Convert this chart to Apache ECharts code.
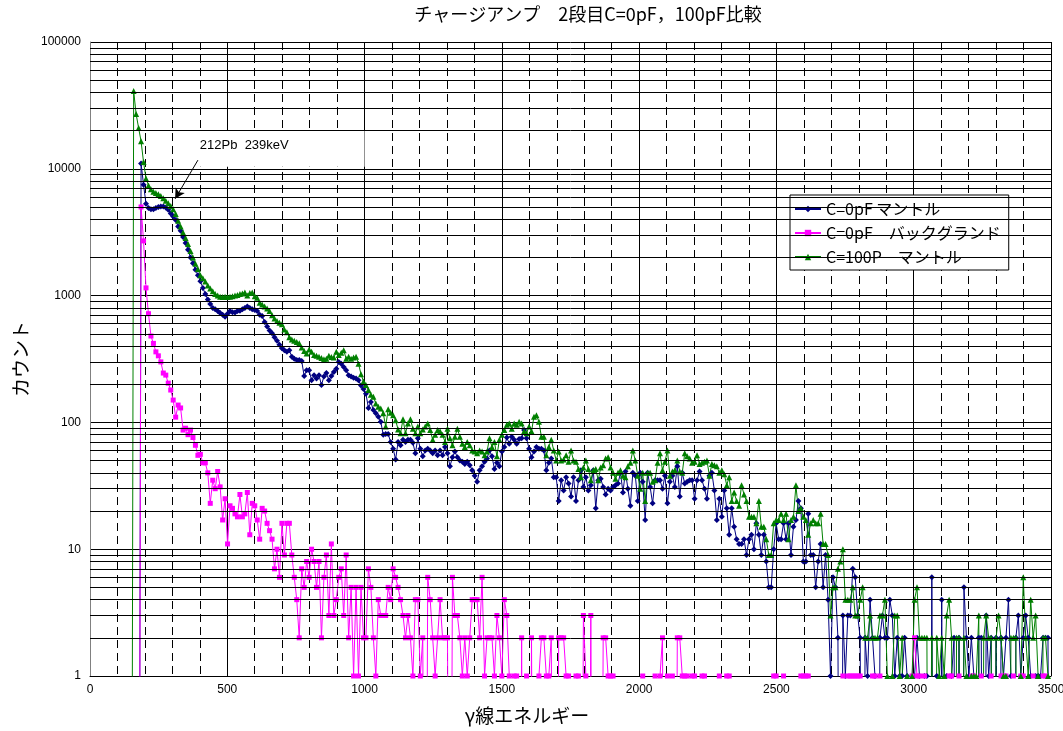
<!DOCTYPE html>
<html><head><meta charset="utf-8">
<script src="https://cdn.jsdelivr.net/npm/echarts@6/dist/echarts.min.js"></script>
<style>html,body{margin:0;padding:0;background:#fff}#c{width:1063px;height:731px}</style>
</head><body><div id="c"></div>
<script>
// channel energies (keV)
const energy = [
150,159,168,177,186,195,204,213,222,231,
240,249,258,267,276,285,294,303,312,321,
330,339,348,357,366,375,384,393,402,411,
420,429,438,447,456,465,474,483,492,501,
510,519,528,537,546,555,564,573,582,591,
600,609,618,627,636,645,654,663,672,681,
690,699,708,717,726,735,744,753,762,771,
780,789,798,807,816,825,834,843,852,861,
870,879,888,897,906,915,924,933,942,951,
960,969,978,987,996,1005,1014,1023,1032,1041,
1050,1059,1068,1077,1086,1095,1104,1113,1122,1131,
1140,1149,1158,1167,1176,1185,1194,1203,1212,1221,
1230,1239,1248,1257,1266,1275,1284,1293,1302,1311,
1320,1329,1338,1347,1356,1365,1374,1383,1392,1401,
1410,1419,1428,1437,1446,1455,1464,1473,1482,1491,
1500,1509,1518,1527,1536,1545,1554,1563,1572,1581,
1590,1599,1608,1617,1626,1635,1644,1653,1662,1671,
1680,1689,1698,1707,1716,1725,1734,1743,1752,1761,
1770,1779,1788,1797,1806,1815,1824,1833,1842,1851,
1860,1869,1878,1887,1896,1905,1914,1923,1932,1941,
1950,1959,1968,1977,1986,1995,2004,2013,2022,2031,
2040,2049,2058,2067,2076,2085,2094,2103,2112,2121,
2130,2139,2148,2157,2166,2175,2184,2193,2202,2211,
2220,2229,2238,2247,2256,2265,2274,2283,2292,2301,
2310,2319,2328,2337,2346,2355,2364,2373,2382,2391,
2400,2409,2418,2427,2436,2445,2454,2463,2472,2481,
2490,2499,2508,2517,2526,2535,2544,2553,2562,2571,
2580,2589,2598,2607,2616,2625,2634,2643,2652,2661,
2670,2679,2688,2697,2706,2715,2724,2733,2742,2751,
2760,2769,2778,2787,2796,2805,2814,2823,2832,2841,
2850,2859,2868,2877,2886,2895,2904,2913,2922,2931,
2940,2949,2958,2967,2976,2985,2994,3003,3012,3021,
3030,3039,3048,3057,3066,3075,3084,3093,3102,3111,
3120,3129,3138,3147,3156,3165,3174,3183,3192,3201,
3210,3219,3228,3237,3246,3255,3264,3273,3282,3291,
3300,3309,3318,3327,3336,3345,3354,3363,3372,3381,
3390,3399,3408,3417,3426,3435,3444,3453,3462,3471,
3480,3489,3498];

// C=0pF マントル
const mantle0pF = [
0,0,0,0,11000,7500,5300,4900,4800,4800,
4900,5000,5050,5050,4950,4750,4450,4200,3950,3500,
3250,2900,2600,2300,2000,1800,1600,1450,1300,1150,
1030,930,860,800,780,755,730,705,680,720,
755,740,735,755,760,780,800,820,800,780,
770,755,707,690,620,570,530,505,470,440,
410,385,370,360,370,330,318,310,310,305,
232,258,258,215,235,222,235,197,230,245,
215,232,250,265,300,290,273,258,235,230,
225,222,215,195,183,168,130,145,125,118,
111,101,80,81,81,70,62,51,70,66,
73,70,73,73,69,57,75,62,54,60,
62,60,57,60,55,60,55,64,57,45,
53,59,53,50,49,47,49,46,42,38,
34,42,45,49,52,60,54,43,48,45,
59,64,76,68,77,73,68,74,75,87,
75,62,53,59,64,62,62,60,42,48,
52,37,37,24,35,29,37,33,26,37,
24,35,42,31,37,29,32,42,21,35,
36,31,27,30,29,31,32,33,40,28,
41,30,22,40,38,24,40,34,17,40,
31,23,35,35,35,30,38,23,34,38,
31,45,26,40,33,34,35,35,25,35,
41,35,30,25,38,40,29,17,25,18,
29,21,13,21,15,12,11,11,12,9,
12,13,10,16,13,9,13,8,5,5,
10,16,12,12,16,12,16,9,15,17,
24,21,8,8,19,9,9,5,8,11,
5,9,4,1,6,5,2,0,3,1,
3,3,7,6,3,2,0,2,1,4,
2,1,0,2,3,2,2,4,3,1,
2,1,1,2,1,0,0,1,2,1,
0,1,1,0,6,0,1,0,4,0,
1,0,1,2,0,2,0,5,2,1,
2,1,0,2,2,0,3,1,2,0,
2,0,2,1,2,4,1,0,2,3,
1,2,3,2,1,0,1,1,1,2,
2,2,0];

// C=0pF バックグランド
const background0pF = [
0,0,0,0,5000,2700,1150,720,480,420,
360,335,300,245,236,204,180,150,110,137,
130,87,90,80,87,76,66,55,56,48,
48,40,23,35,30,41,31,17,25,11,
22,21,19,18,27,18,19,28,13,23,
22,17,12,21,20,16,14,12,7,10,
6,16,9,16,16,9,6,4,2,7,
5,8,6,10,8,5,8,2,6,9,
3,11,3,4,6,7,3,9,2,5,
1,5,1,5,2,2,7,5,2,1,
4,3,3,3,5,4,7,6,5,4,
3,2,3,2,1,4,4,1,2,0,
6,4,2,1,2,4,2,2,2,0,
6,3,3,2,1,2,1,2,4,4,
4,2,6,1,2,2,2,1,3,2,
1,4,3,1,0,1,1,0,2,0,
1,0,2,0,0,1,2,2,1,1,
2,0,0,2,2,2,1,1,0,0,
1,1,0,3,1,0,3,0,0,0,
0,2,2,1,1,1,0,0,0,0,
0,0,0,0,0,0,0,1,0,0,
0,0,1,0,1,2,0,1,0,1,
0,2,2,1,1,1,0,1,1,0,
0,1,1,0,0,0,0,0,1,0,
0,1,1,0,0,0,0,0,0,0,
0,0,0,0,0,0,0,0,0,0,
1,1,0,0,1,0,0,0,0,0,
0,1,1,1,1,0,0,0,0,0,
0,0,0,0,0,0,0,0,1,0,
1,1,1,1,1,1,0,0,0,0,
1,1,0,1,0,0,0,0,0,0,
0,0,0,0,0,0,1,2,1,1,
0,1,0,0,0,0,0,0,0,0,
0,1,1,0,0,1,0,0,0,0,
1,1,0,0,1,0,0,0,1,0,
0,0,1,1,1,0,0,1,0,0,
1,1,0,0,0,1,0,0,0,1,
1,0,0];

// C=100P マントル
const mantle100P = [
0,41000,27000,21000,16500,11300,8400,7400,6900,6600,
6450,6300,6100,5850,5600,5350,5100,4800,4400,3900,
3500,3150,2850,2550,2250,2000,1780,1620,1450,1370,
1290,1200,1140,1080,1030,1000,980,975,980,975,
980,990,1000,1010,1030,1040,1060,1000,1050,1060,
990,960,880,850,820,790,755,700,660,630,
610,595,540,515,470,450,440,430,420,390,
365,350,375,360,340,335,330,322,315,318,
335,328,325,360,340,355,370,318,330,318,
325,330,290,240,210,197,180,165,159,141,
133,129,118,93,127,119,114,104,88,82,
106,82,98,106,89,82,93,82,88,93,
98,87,73,80,87,85,80,70,89,75,
66,77,89,77,68,64,70,66,60,59,
57,60,59,55,59,75,64,70,54,73,
80,87,96,98,89,98,96,101,98,85,
82,93,85,111,114,101,77,77,55,64,
73,60,50,59,50,51,55,49,60,50,
49,43,37,44,50,43,35,42,43,35,
44,46,52,53,44,40,36,40,42,38,
37,45,48,60,50,38,30,40,24,40,
40,34,35,48,57,42,49,60,38,41,
42,50,41,40,57,54,52,48,49,55,
47,48,49,50,38,47,46,45,40,42,
39,32,37,24,28,24,22,32,27,24,
18,18,18,16,24,15,15,12,9,9,
16,17,17,19,17,19,12,17,18,32,
20,21,18,17,13,16,17,16,16,19,
11,11,9,3,5,5,7,8,10,4,
4,4,5,3,3,4,5,2,2,3,
2,2,2,3,3,4,1,0,1,3,
3,1,2,0,1,0,1,4,5,2,
2,2,2,0,2,0,2,1,2,1,
3,4,2,0,2,2,0,2,1,0,
1,1,1,3,0,2,3,2,2,0,
2,3,2,1,1,0,2,2,2,0,
1,6,2,1,4,2,3,1,0,2,
2,1,0];

const seriesNames = ['C=0pF マントル', 'C=0pF　バックグランド', 'C=100P　マントル'];
const titleText = 'チャージアンプ　2段目C=0pF，100pF比較';
const xAxisTitle = 'γ線エネルギー';
const yAxisTitle = 'カウント';
const annotationText = '212Pb  239keV';
// minor horizontal gridlines of the log axis
const yMinorLines = [2,3,4,5,6,7,8,9,20,30,40,50,60,70,80,90,200,300,400,500,600,700,800,900,
  2000,3000,4000,5000,6000,7000,8000,9000,20000,30000,40000,50000,60000,70000,80000,90000];

const ZERO_DRAW = 1e-4; // zero counts fall far below the log axis and are clipped
function pairs(vals){ return energy.map((e,i)=>[e, vals[i] === 0 ? ZERO_DRAW : vals[i]]); }

const FONT_JP = '"Noto Sans CJK JP", "Noto Sans", sans-serif';
const FONT_NUM = '"Liberation Sans", Arial, sans-serif';

const chart = echarts.init(document.getElementById('c'), null, {renderer:'canvas'});

function mkSeries(name, vals, color, symbol, size){
  return {
    name, type:'line', data: pairs(vals), z: 2,
    symbol, symbolSize: size, showSymbol: true, showAllSymbol: true,
    lineStyle:{color, width:1}, itemStyle:{color, borderWidth:0},
    clip: true, silent: true, animation: false, emphasis:{disabled:true},
    connectNulls: false
  };
}

const option = {
  animation: false,
  backgroundColor: '#fff',
  textStyle: {fontFamily: FONT_JP},
  title: [
    {text: titleText, left: 588, top: 5, textAlign: 'center', padding: 0,
     textStyle: {fontSize: 18, fontWeight: 'normal', color: '#000', fontFamily: FONT_JP}},
    {text: xAxisTitle, left: 527, top: 706, textAlign: 'center', padding: 0,
     textStyle: {fontSize: 19, fontWeight: 'normal', color: '#000', fontFamily: FONT_JP}}
  ],
  grid: {left: 90, top: 42, width: 961, height: 634, containLabel: false, outerBoundsMode: 'none', show: false},
  legend: {
    data: seriesNames, left: 790, top: 195, orient: 'vertical',
    backgroundColor: '#fff', borderColor: '#000', borderWidth: 1, borderRadius: 0,
    padding: [5, 8, 4, 4], itemGap: 6, itemWidth: 26, itemHeight: 8,
    textStyle: {fontSize: 16, color: '#000', fontFamily: FONT_JP, lineHeight: 18},
    selectedMode: false
  },
  xAxis: {
    type: 'value', min: 0, max: 3500, interval: 500,
    axisLine: {show: true, lineStyle: {color: '#000', width: 1}},
    axisTick: {show: false},
    axisLabel: {color: '#000', fontSize: 12, fontFamily: FONT_NUM, margin: 8, formatter: v => String(v)},
    splitLine: {show: true, lineStyle: {color: '#000', width: 1, type: 'solid'}},
    minorTick: {show: false, splitNumber: 5},
    minorSplitLine: {show: true, lineStyle: {color: '#000', width: 1, type: [8, 5]}}
  },
  yAxis: {
    type: 'log', logBase: 10, min: 1, max: 100000,
    name: yAxisTitle, nameLocation: 'middle', nameRotate: 90, nameGap: 58,
    nameTextStyle: {fontSize: 19, color: '#000', fontFamily: FONT_JP},
    axisLine: {show: true, lineStyle: {color: '#808080', width: 1}},
    axisTick: {show: false},
    axisLabel: {color: '#000', fontSize: 12, fontFamily: FONT_NUM, margin: 9, formatter: v => String(Math.round(v))},
    splitLine: {show: true, lineStyle: {color: '#000', width: 1, type: 'solid'}},
    minorSplitLine: {show: false}
  },
  series: [
    {name: '_minorGrid', type: 'line', data: [], z: 1, silent: true, animation: false,
     markLine: {silent: true, animation: false, symbol: 'none', label: {show: false},
       lineStyle: {color: '#000', width: 1, type: 'solid'}, emphasis: {disabled: true},
       data: yMinorLines.map(v => ({yAxis: v}))}},
    mkSeries(seriesNames[0], mantle0pF, '#000080', 'diamond', 6),
    mkSeries(seriesNames[1], background0pF, '#FF00FF', 'rect', 5),
    mkSeries(seriesNames[2], mantle100P, '#008000', 'triangle', 6),
    {name: '_arrow', type: 'line', data: [], z: 4, silent: true, animation: false,
     markLine: {silent: true, animation: false, symbol: ['none', 'arrow'], symbolSize: [8, 10],
       label: {show: false}, lineStyle: {color: '#000', width: 1, type: 'solid'}, emphasis: {disabled: true},
       data: [[{coord: [393, 11700]}, {coord: [310, 5800]}]]}}
  ]
};
chart.setOption(option);

// annotation box (white, hides gridlines) positioned through the chart's scales
const pTL = chart.convertToPixel({gridIndex: 0}, [388, 19900]);
const pBR = chart.convertToPixel({gridIndex: 0}, [1000, 10400]);
const pTx = chart.convertToPixel({gridIndex: 0}, [400, 15300]);
chart.setOption({
  graphic: [
    {type: 'rect', z: 3, silent: true,
     shape: {x: pTL[0], y: pTL[1], width: pBR[0] - pTL[0], height: pBR[1] - pTL[1]},
     style: {fill: '#fff'}},
    {type: 'text', z: 5, silent: true, x: pTx[0], y: pTx[1],
     style: {text: annotationText, fill: '#000', font: '13px ' + FONT_NUM, textVerticalAlign: 'middle', verticalAlign: 'middle'}}
  ]
});
</script></body></html>
